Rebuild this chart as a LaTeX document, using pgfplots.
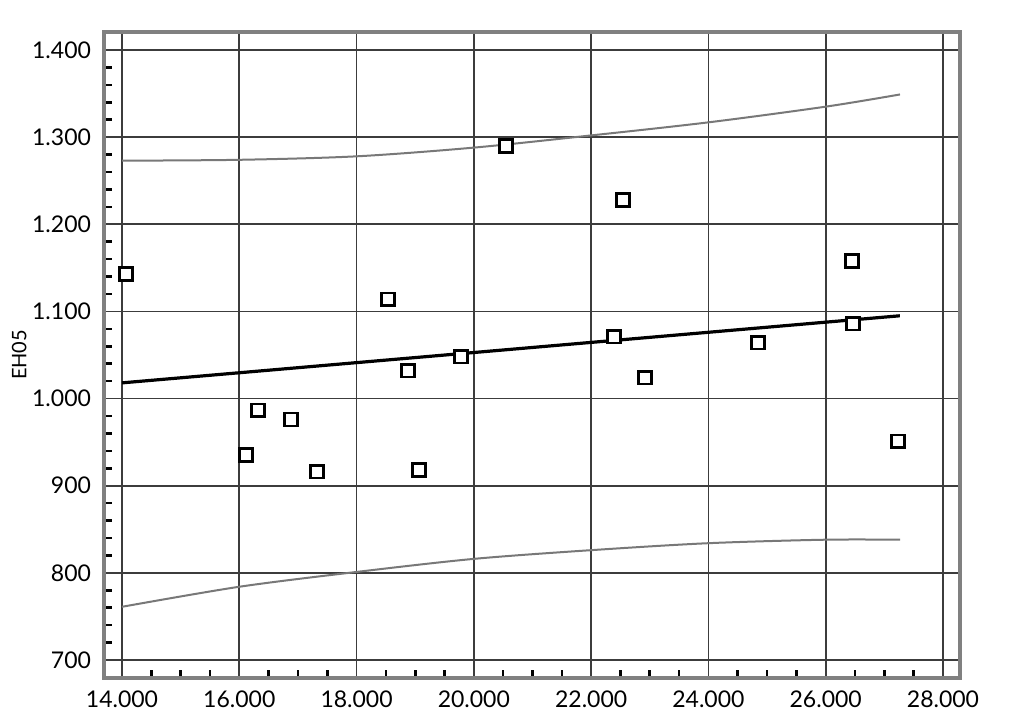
\documentclass[border=0pt]{standalone}
\usepackage{fontspec}
\setmainfont{Lato}
\usepackage{pgfplots}
\pgfplotsset{compat=1.18}
\definecolor{framegray}{RGB}{128,128,128}
\definecolor{gridgray}{RGB}{60,60,60}
\definecolor{curvegray}{RGB}{120,120,120}
\begin{document}
\begin{tikzpicture}
\begin{axis}[
  name=ax,
  scale only axis,
  width=428pt, height=323pt,
  xmin=13693, xmax=28290,
  ymin=679.3, ymax=1420.7,
  xtick={14000,16000,...,28000},
  ytick={700,800,...,1400},
  minor x tick num=3,
  minor y tick num=4,
  tick pos=left,
  tick align=inside,
  major tick length=0pt,
  minor tick length=4pt,
  minor tick style={black, line width=1.3pt},
  grid=major,
  major grid style={gridgray, line width=0.9pt},
  axis line style={framegray, line width=1.6pt},
  /pgf/number format/assume math mode=true,
  /pgf/number format/.cd, 1000 sep={.}, fixed,
  /pgfplots/.cd,
  scaled ticks=false,
  ticklabel style={font=\fontsize{11.5}{12}\selectfont},
  xticklabel style={yshift=-3pt},
  yticklabel style={xshift=-3pt},
  ylabel={EH05},
  ylabel style={font=\fontsize{10}{11}\selectfont, yshift=-4pt},
  clip=false,
]
% upper band
\addplot[curvegray, line width=1pt, smooth] coordinates {
(14000,1273) (16000,1274) (18000,1278) (20000,1288) (22000,1302) (24000,1317) (26000,1335) (27267,1349)};
% lower band
\addplot[curvegray, line width=1pt, smooth] coordinates {
(14000,761) (16000,784) (18000,801) (20000,816) (22000,826) (24000,834) (26000,838) (27267,838)};
% regression
\addplot[black, line width=1.6pt] coordinates {(14000,1018) (27264,1095)};
% data
\addplot[only marks, mark=square*, mark size=3.2pt,
  mark options={fill=white, draw=black, line width=1.3pt}] coordinates {
(14068,1143) (16115,935) (16319,986.5) (16882,976) (17325,916)
(18536,1114) (18877,1032) (19065,918) (19781,1048) (20549,1290)
(22390,1071) (22543,1228) (22919,1024) (24846,1064) (26449,1158)
(26466,1086) (27233,951)};
\end{axis}
\pgfresetboundingbox
\path (ax.south west) ++(-52pt,-25pt) coordinate (bl);
\path (ax.north east) ++(25.5pt,16pt) coordinate (tr);
\path (bl) rectangle (tr);
\end{tikzpicture}
\end{document}
